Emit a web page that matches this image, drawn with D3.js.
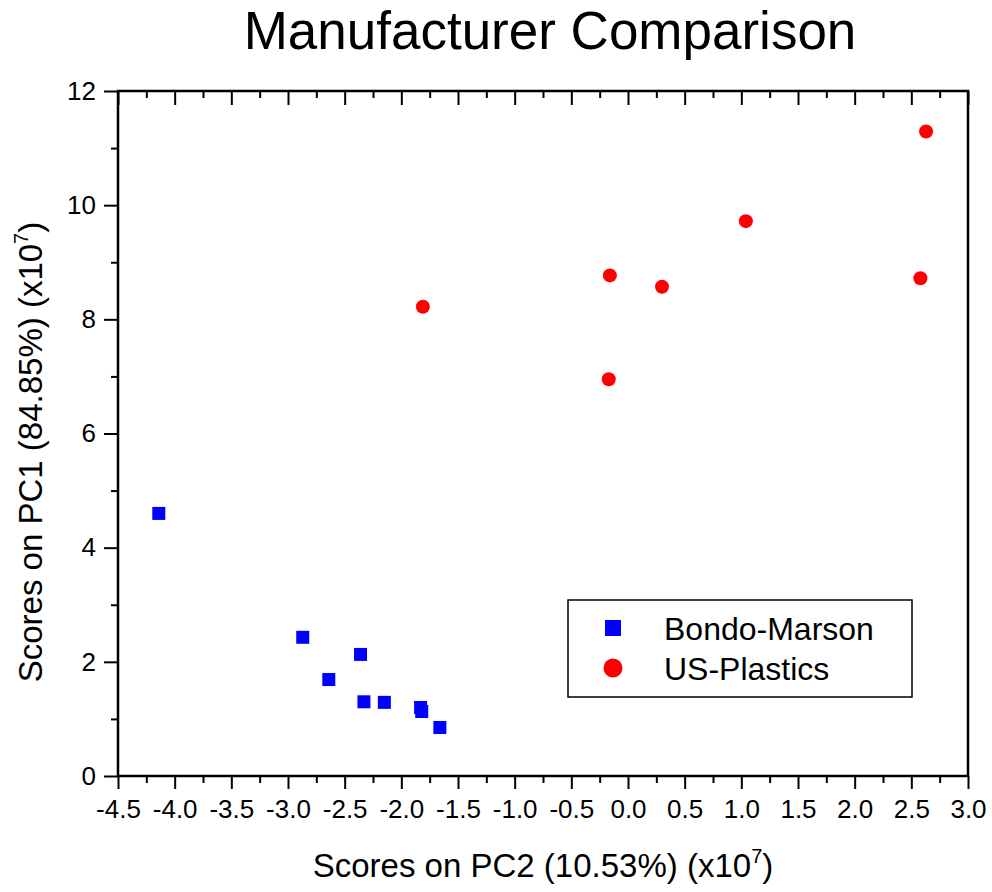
<!DOCTYPE html>
<html>
<head>
<meta charset="utf-8">
<script src="https://cdn.jsdelivr.net/npm/d3@7"></script>
<style>
  body { margin: 0; background: #fff; }
  svg text { font-family: "Liberation Sans", Arial, sans-serif; fill: #000; }
</style>
</head>
<body>
<div id="chart"></div>
<script>
// scores (x10^7)
const bondoPC2 = [-4.14, -2.87, -2.36, -2.64, -2.33, -2.15, -1.83, -1.82, -1.66];
const bondoPC1 = [4.60, 2.43, 2.13, 1.69, 1.30, 1.29, 1.20, 1.13, 0.85];
const usPC2 = [-1.81, -0.16, 0.30, 1.04, 2.63, 2.58, -0.17];
const usPC1 = [8.22, 8.77, 8.57, 9.72, 11.29, 8.72, 6.95];

const xTicks = [-4.5, -4.0, -3.5, -3.0, -2.5, -2.0, -1.5, -1.0, -0.5, 0.0, 0.5, 1.0, 1.5, 2.0, 2.5, 3.0];
const yTicks = [0, 2, 4, 6, 8, 10, 12];
const seriesNames = ["Bondo-Marson", "US-Plastics"];

const W = 992, H = 892;
const PLOT = { left: 118, right: 968, top: 91, bottom: 776 };

const svg = d3.select("#chart").append("svg")
    .attr("width", W)
    .attr("height", H);

const x = d3.scaleLinear().domain([-4.5, 3.0]).range([PLOT.left, PLOT.right]);
const y = d3.scaleLinear().domain([0, 12]).range([PLOT.bottom, PLOT.top]);

const xMinor = d3.range(-4.25, 3.0, 0.5);
const yMinor = d3.range(1, 12, 2);

const styleAxis = g => {
    g.select(".domain").remove();
    g.selectAll(".tick line").attr("stroke", "#000").attr("stroke-width", 2);
    g.selectAll(".tick text").style("font-size", "26px");
};

// bottom axis (plain hyphen for negatives)
svg.append("g")
    .attr("transform", `translate(0, ${PLOT.bottom})`)
    .call(d3.axisBottom(x).tickValues(xTicks).tickSize(13).tickPadding(11).tickFormat(d => d.toFixed(1)))
    .call(styleAxis);
svg.append("g")
    .attr("transform", `translate(0, ${PLOT.bottom})`)
    .call(d3.axisBottom(x).tickValues(xMinor).tickSize(7).tickFormat(""))
    .call(styleAxis);

// top axis, ticks pointing in
svg.append("g")
    .attr("transform", `translate(0, ${PLOT.top})`)
    .call(d3.axisBottom(x).tickValues(xTicks).tickSize(14).tickFormat(""))
    .call(styleAxis);
svg.append("g")
    .attr("transform", `translate(0, ${PLOT.top})`)
    .call(d3.axisBottom(x).tickValues(xMinor).tickSize(7).tickFormat(""))
    .call(styleAxis);

// left axis
svg.append("g")
    .attr("transform", `translate(${PLOT.left}, 0)`)
    .call(d3.axisLeft(y).tickValues(yTicks).tickSize(14).tickPadding(8))
    .call(styleAxis);
svg.append("g")
    .attr("transform", `translate(${PLOT.left}, 0)`)
    .call(d3.axisLeft(y).tickValues(yMinor).tickSize(7).tickFormat(""))
    .call(styleAxis);

// frame
svg.append("rect")
    .attr("x", PLOT.left)
    .attr("y", PLOT.top)
    .attr("width", PLOT.right - PLOT.left)
    .attr("height", PLOT.bottom - PLOT.top)
    .attr("fill", "none")
    .attr("stroke", "#000")
    .attr("stroke-width", 2.5);

// points
const SQ = 13;
svg.append("g").selectAll("rect")
    .data(d3.zip(bondoPC2, bondoPC1))
    .join("rect")
    .attr("x", d => x(d[0]) - SQ / 2)
    .attr("y", d => y(d[1]) - SQ / 2)
    .attr("width", SQ)
    .attr("height", SQ)
    .attr("fill", "#0000ff");

svg.append("g").selectAll("circle")
    .data(d3.zip(usPC2, usPC1))
    .join("circle")
    .attr("cx", d => x(d[0]))
    .attr("cy", d => y(d[1]))
    .attr("r", 7)
    .attr("fill", "#ff0000");

// title
svg.append("text")
    .attr("x", 550)
    .attr("y", 49)
    .attr("text-anchor", "middle")
    .style("font-size", "53px")
    .text("Manufacturer Comparison");

// axis titles
const xt = svg.append("text")
    .attr("x", 543)
    .attr("y", 877)
    .attr("text-anchor", "middle")
    .style("font-size", "33px");
xt.append("tspan").text("Scores on PC2 (10.53%) (x10");
xt.append("tspan").attr("dy", -14).style("font-size", "20px").text("7");
xt.append("tspan").attr("dy", 14).text(")");

const yt = svg.append("text")
    .attr("transform", "translate(42, 452) rotate(-90)")
    .attr("text-anchor", "middle")
    .style("font-size", "33px");
yt.append("tspan").text("Scores on PC1 (84.85%) (x10");
yt.append("tspan").attr("dy", -14).style("font-size", "20px").text("7");
yt.append("tspan").attr("dy", 14).text(")");

// legend
const lg = svg.append("g");
lg.append("rect")
    .attr("x", 568)
    .attr("y", 600)
    .attr("width", 344)
    .attr("height", 97)
    .attr("fill", "#fff")
    .attr("stroke", "#000")
    .attr("stroke-width", 1.5);
lg.append("rect")
    .attr("x", 613 - 8)
    .attr("y", 628 - 8)
    .attr("width", 16)
    .attr("height", 16)
    .attr("fill", "#0000ff");
lg.append("circle")
    .attr("cx", 613)
    .attr("cy", 668)
    .attr("r", 9.5)
    .attr("fill", "#ff0000");
lg.selectAll("text")
    .data(seriesNames)
    .join("text")
    .attr("x", 664)
    .attr("y", (d, i) => 640 + i * 40)
    .style("font-size", "32px")
    .text(d => d);
</script>
</body>
</html>
